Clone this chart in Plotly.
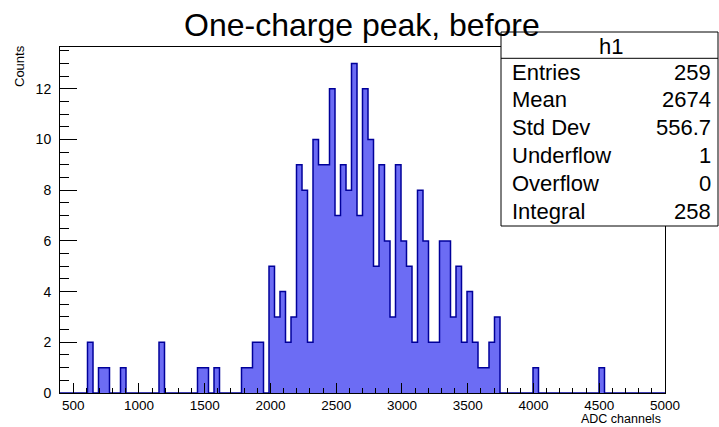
import plotly.graph_objects as go

# h1: 110 equal bins between 400 and 5000 ADC channels
x_low, x_high, n_bins = 400.0, 5000.0, 110
counts = [
    0, 0, 0, 0, 0, 2, 0, 1, 1, 0,
    0, 1, 0, 0, 0, 0, 0, 0, 2, 0,
    0, 0, 0, 0, 0, 1, 1, 0, 1, 0,
    0, 0, 0, 1, 1, 2, 2, 0, 5, 3,
    4, 2, 3, 9, 8, 2, 10, 9, 9, 12,
    7, 9, 8, 13, 7, 12, 10, 5, 9, 6,
    3, 9, 6, 5, 2, 8, 6, 2, 2, 6,
    6, 3, 5, 2, 4, 2, 1, 1, 2, 3,
    0, 0, 0, 0, 0, 0, 1, 0, 0, 0,
    0, 0, 0, 0, 0, 0, 0, 0, 1, 0,
    0, 0, 0, 0, 0, 0, 0, 0, 0, 0,
]
title_text = "One-charge peak, before"
x_title = "ADC channels"
y_title = "Counts"
hist_name = "h1"
stat_names = ["Entries", "Mean", "Std Dev", "Underflow", "Overflow", "Integral"]
stat_values = ["259", "2674", "556.7", "1", "0", str(sum(counts))]

bin_w = (x_high - x_low) / n_bins
edges = [x_low + i * bin_w for i in range(n_bins + 1)]
centers = [x_low + (i + 0.5) * bin_w for i in range(n_bins)]
y_max = 1.05 * max(counts)

# canvas and frame geometry (pixels)
W, H = 719, 427
L, R, T, B = 60, 665, 47, 393
FONT = "Liberation Sans, Arial, Helvetica, sans-serif"


def px(xp):
    return (xp - L) / (R - L)


def py(yp):
    return (B - yp) / (B - T)


fig = go.Figure()

# filled bins
fig.add_trace(go.Bar(
    x=centers, y=counts, width=bin_w,
    marker=dict(color="rgb(108,108,244)", line=dict(width=0)),
    showlegend=False, hoverinfo="skip",
))
# histogram contour
fig.add_trace(go.Scatter(
    x=edges, y=counts + [counts[-1]], mode="lines",
    line=dict(color="#00009a", width=1.5, shape="hv"),
    showlegend=False, hoverinfo="skip",
))

fig.update_layout(
    width=W, height=H,
    margin=dict(l=L, r=W - R, t=T, b=H - B, pad=0),
    paper_bgcolor="white", plot_bgcolor="white",
    bargap=0, font=dict(family=FONT, color="black", size=14),
)

fig.update_xaxes(
    range=[x_low, x_high], showgrid=False, zeroline=False,
    showline=True, linecolor="black", linewidth=1, mirror=True,
    ticks="inside", ticklen=10, tickcolor="black", tickwidth=1,
    tick0=500, dtick=500, tickfont=dict(size=13.5), ticklabelstandoff=0,
    minor=dict(ticks="inside", ticklen=5, tickcolor="black", dtick=100, tick0=500, showgrid=False),
)
fig.update_yaxes(
    range=[0, y_max], showgrid=False, zeroline=False,
    showline=True, linecolor="black", linewidth=1, mirror=True,
    ticks="inside", ticklen=17, tickcolor="black", tickwidth=1,
    tick0=0, dtick=2, tickfont=dict(size=14), ticklabelstandoff=5,
    minor=dict(ticks="inside", ticklen=9, tickcolor="black", dtick=0.5, showgrid=False),
)

# statistics box
box_l, box_r, box_t, box_b, head_b = 501, 718, 32, 226, 58.3
fig.add_shape(type="rect", xref="paper", yref="paper",
              x0=px(box_l), x1=px(box_r), y0=py(box_b), y1=py(box_t),
              line=dict(color="black", width=1), fillcolor="white", layer="above")
fig.add_shape(type="line", xref="paper", yref="paper",
              x0=px(box_l), x1=px(box_r), y0=py(head_b), y1=py(head_b),
              line=dict(color="black", width=1), layer="above")

ann = []
ann.append(dict(text=title_text, x=px(362), y=py(25), xanchor="center", yanchor="middle",
                font=dict(size=32)))
ann.append(dict(text=hist_name, x=px(611), y=py(46), xanchor="center", yanchor="middle",
                font=dict(size=22)))
for i, (name, val) in enumerate(zip(stat_names, stat_values)):
    yc = 72 + 27.9 * i
    ann.append(dict(text=name, x=px(510), y=py(yc), xanchor="left", yanchor="middle",
                    font=dict(size=22)))
    ann.append(dict(text=val, x=px(713), y=py(yc), xanchor="right", yanchor="middle",
                    font=dict(size=22)))
ann.append(dict(text=x_title, x=px(663), y=py(419), xanchor="right", yanchor="middle",
                font=dict(size=12.5)))
ann.append(dict(text=y_title, x=px(20), y=py(66), xanchor="center", yanchor="middle",
                textangle=-90, font=dict(size=13)))
for a in ann:
    a.update(xref="paper", yref="paper", showarrow=False)
fig.update_layout(annotations=ann)

fig.write_html("out.html")
